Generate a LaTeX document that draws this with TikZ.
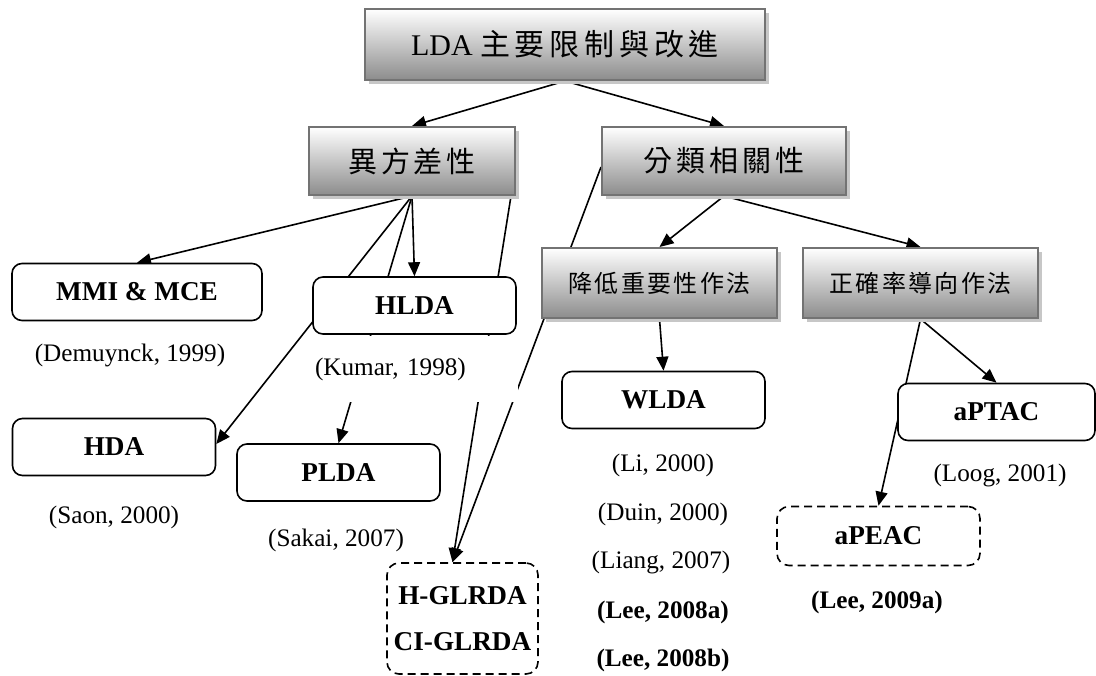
\documentclass[tikz,border=0pt]{standalone}
\usepackage{fontspec}
\setmainfont{Liberation Serif}
\newfontfamily\cjkfont{Noto Sans CJK TC}
\usetikzlibrary{arrows.meta,shadows}
\pgfdeclarelayer{bg}
\pgfsetlayers{bg,main}

\begin{document}
\begin{tikzpicture}[x=0.5pt, y=-0.5pt,
  catbox/.style={draw=black!55, line width=1pt, top color=white, bottom color=black!45,
    drop shadow={shadow xshift=2pt, shadow yshift=-2pt, fill=black!22, opacity=1},
    inner sep=0pt, minimum height=34pt},
  methbox/.style={draw, line width=0.8pt, rounded corners=5pt, fill=white, inner sep=0pt,
    minimum width=101.5pt, minimum height=28.5pt, font=\bfseries\fontsize{13.6}{16}\selectfont},
  newbox/.style={methbox, dash pattern=on 4pt off 2.5pt, rounded corners=6pt},
  cite/.style={inner sep=0pt, font=\fontsize{12.6}{15}\selectfont},
  boldcite/.style={cite, font=\bfseries\fontsize{12.6}{15}\selectfont},
  arr/.style={-{Triangle[length=7pt, width=6pt]}, line width=0.8pt}]
  \useasboundingbox (0,0) rectangle (1096,675);
  % categories
  \node[catbox, minimum width=200pt, minimum height=35.5pt, font=\fontsize{15}{18}\selectfont] (lda) at (565,44.5)
    {LDA {\cjkfont\addfontfeature{LetterSpace=16}主要限制與改進}};
  \node[catbox, minimum width=103pt, font=\cjkfont\fontsize{14.5}{17}\selectfont\addfontfeature{LetterSpace=13}] (hetero) at (412,161) {異方差性};
  \node[catbox, minimum width=122pt, font=\cjkfont\fontsize{14.5}{17}\selectfont\addfontfeature{LetterSpace=13}] (corr) at (724,161) {分類相關性};
  \node[catbox, minimum width=117.5pt, minimum height=35pt, font=\cjkfont\fontsize{12}{14}\selectfont\addfontfeature{LetterSpace=10}] (deemph) at (659.5,283) {降低重要性作法};
  \node[catbox, minimum width=117.5pt, minimum height=35pt, font=\cjkfont\fontsize{12}{14}\selectfont\addfontfeature{LetterSpace=10}] (accur) at (920.5,283) {正確率導向作法};
  % references
  \node[cite] (demu) at (130,355) {(Demuynck, 1999)};
  \node[cite, fill=white, text width=98pt, align=left, inner xsep=3.5pt, minimum height=33pt] (kumar) at (413,369) {(Kumar, 1998)};
  \node[cite] (saon) at (114,517) {(Saon, 2000)};
  \node[cite] (sakai) at (336,540) {(Sakai, 2007)};
  \node[cite] (li) at (663,465) {(Li, 2000)};
  \node[cite] (duin) at (663,514) {(Duin, 2000)};
  \node[cite] (liang) at (661,562) {(Liang, 2007)};
  \node[boldcite] (leea) at (663,612) {(Lee, 2008a)};
  \node[boldcite] (leeb) at (663,660) {(Lee, 2008b)};
  \node[cite] (loog) at (1000,475) {(Loog, 2001)};
  \node[boldcite] (leec) at (877,602) {(Lee, 2009a)};
  % methods
  \node[methbox, minimum width=125pt] (mmi) at (137,292) {MMI \& MCE};
  \node[methbox] (hlda) at (414.5,305.5) {HLDA};
  \node[methbox] (hda) at (114,447) {HDA};
  \node[methbox] (plda) at (338.5,472.5) {PLDA};
  \node[methbox] (wlda) at (663.5,400) {WLDA};
  \node[methbox, minimum width=98.5pt] (aptac) at (996.5,412) {aPTAC};
  \node[newbox, minimum height=29.5pt] (apeac) at (878.5,536) {aPEAC};
  \node[newbox, minimum width=75.5pt, minimum height=55.5pt, align=center] (glrda) at (462.5,618.5) {H-GLRDA\\[7pt]CI-GLRDA};
  % links, behind the boxes
  \begin{pgfonlayer}{bg}
  \draw[arr] (lda.south) -- (hetero.north);
  \draw[arr] (lda.south) -- (corr.north);
  \draw[arr] (hetero.south) -- (mmi.north);
  \draw[arr] (hetero.south) -- (hlda.north);
  \draw[arr] (hetero.south) -- ([yshift=1.5pt]hda.east);
  \draw[arr] (hetero.south) -- (plda.north);
  \draw[arr] ([xshift=-2.5pt]hetero.south east) -- ([xshift=-5pt]glrda.north);
  \draw[arr] ([yshift=-3pt]corr.west) -- ([xshift=-5pt]glrda.north);
  \draw[arr] (corr.south) -- (deemph.north);
  \draw[arr] (corr.south) -- (accur.north);
  \draw[arr] (deemph.south) -- (wlda.north);
  \draw[arr] (accur.south) -- (aptac.north);
  \draw[arr] (accur.south) -- (apeac.north);
  \end{pgfonlayer}
\end{tikzpicture}
\end{document}
